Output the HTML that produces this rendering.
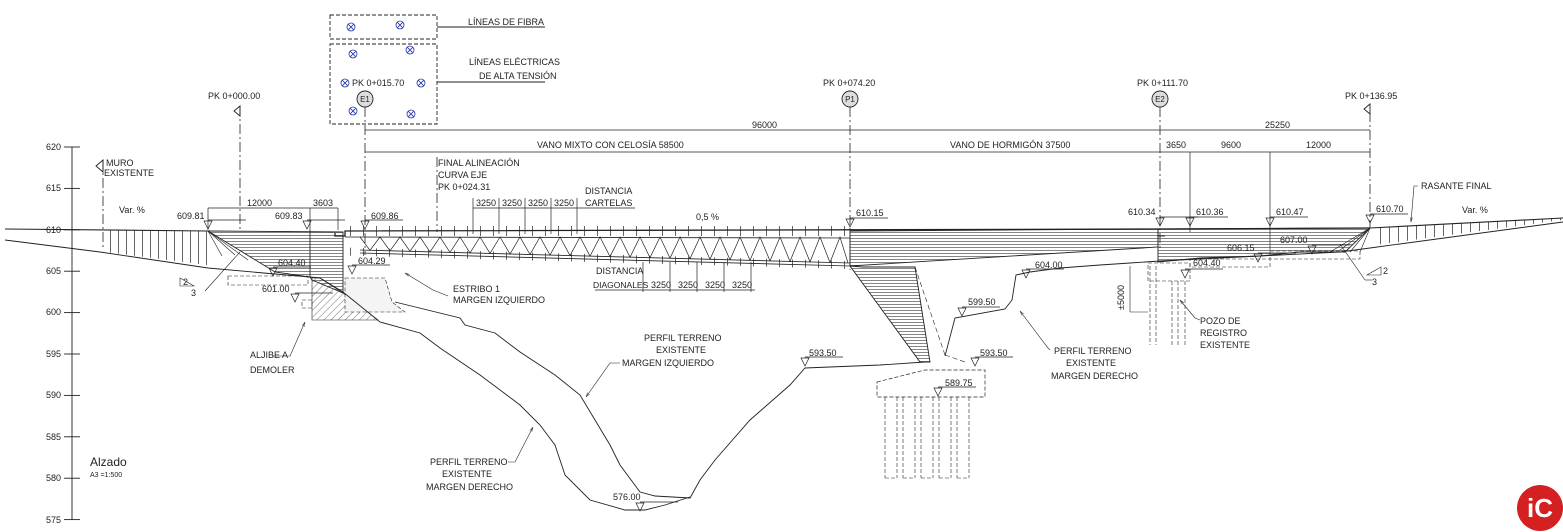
<!DOCTYPE html>
<html><head><meta charset="utf-8"><style>
html,body{margin:0;padding:0;background:#fff;}
svg{display:block;font-family:"Liberation Sans",sans-serif;}
text{font-size:9px;fill:#222;}
</style></head><body>
<svg width="1563" height="532" viewBox="0 0 1563 532" xmlns="http://www.w3.org/2000/svg" xmlns:xlink="http://www.w3.org/1999/xlink">
<defs>
<pattern id="hz" width="6" height="3" patternUnits="userSpaceOnUse"><line x1="0" y1="1.5" x2="6" y2="1.5" stroke="#333" stroke-width="0.6"/></pattern>
<pattern id="dg" width="5" height="5" patternUnits="userSpaceOnUse" patternTransform="rotate(45)"><line x1="0" y1="0" x2="0" y2="5" stroke="#333" stroke-width="0.7"/></pattern>
<pattern id="v8" x="110" width="8" height="10" patternUnits="userSpaceOnUse"><line x1="0.5" y1="0" x2="0.5" y2="10" stroke="#222" stroke-width="0.7"/></pattern>
<pattern id="v9" x="1380" width="9" height="10" patternUnits="userSpaceOnUse"><line x1="0.5" y1="0" x2="0.5" y2="10" stroke="#222" stroke-width="0.7"/></pattern>
<pattern id="v13" x="350" width="13" height="10" patternUnits="userSpaceOnUse"><line x1="0.5" y1="0" x2="0.5" y2="10" stroke="#222" stroke-width="0.7"/></pattern>
<marker id="ar" markerWidth="8" markerHeight="6" refX="8" refY="3" orient="auto"><path d="M0,1 L8,3 L0,5" fill="none" stroke="#333" stroke-width="0.8"/></marker>
<g id="tri" fill="none" stroke="#222" stroke-width="0.7"><polygon points="-4,0 4,0 0,8"/><line x1="0" y1="-1" x2="38" y2="-1"/></g>
<g id="cx" fill="none" stroke="#2233aa" stroke-width="0.8"><circle cx="0" cy="0" r="4"/><line x1="-2.8" y1="-2.8" x2="2.8" y2="2.8"/><line x1="-2.8" y1="2.8" x2="2.8" y2="-2.8"/></g>
</defs>
<g stroke="#222" fill="none" stroke-width="0.9">
<line x1="72" y1="147" x2="72" y2="520"/>
<g>
<line x1="64" y1="147" x2="80" y2="147"/><line x1="64" y1="188.4" x2="80" y2="188.4"/><line x1="64" y1="229.8" x2="80" y2="229.8"/><line x1="64" y1="271.2" x2="80" y2="271.2"/><line x1="64" y1="312.6" x2="80" y2="312.6"/><line x1="64" y1="354" x2="80" y2="354"/><line x1="64" y1="395.4" x2="80" y2="395.4"/><line x1="64" y1="436.8" x2="80" y2="436.8"/><line x1="64" y1="478.2" x2="80" y2="478.2"/><line x1="64" y1="519.6" x2="80" y2="519.6"/>
</g>
<rect x="330" y="15" width="107" height="24" stroke-dasharray="4,2"/>
<rect x="330" y="44" width="107" height="80" stroke-dasharray="4,2"/>
<line x1="437" y1="27" x2="545" y2="27"/>
<line x1="437" y1="82" x2="545" y2="82"/>
<g stroke-dasharray="10,3,2,3" stroke-width="0.8">
<line x1="365" y1="107" x2="365" y2="255"/>
<line x1="850" y1="107" x2="850" y2="270"/>
<line x1="1160" y1="107" x2="1160" y2="250"/>
<line x1="1370" y1="112" x2="1370" y2="228"/>
<line x1="240" y1="106" x2="240" y2="231"/>
<line x1="437" y1="157" x2="437" y2="232"/>
<line x1="103" y1="160" x2="103" y2="250"/>
</g>
<line x1="365" y1="130" x2="1370" y2="130" stroke-width="0.7"/>
<line x1="365" y1="152" x2="1370" y2="152" stroke-width="0.7"/>
<line x1="1190" y1="152" x2="1190" y2="232" stroke-width="0.7"/>
<line x1="1270" y1="152" x2="1270" y2="250" stroke-width="0.7"/>
<line x1="208" y1="208" x2="338" y2="208" stroke-width="0.7"/>
<line x1="208" y1="208" x2="208" y2="230" stroke-width="0.7"/>
<line x1="310" y1="208" x2="310" y2="230" stroke-width="0.7"/>
<line x1="338" y1="208" x2="338" y2="230" stroke-width="0.7"/>
<line x1="473" y1="208" x2="635" y2="208" stroke-width="0.7"/>
<line x1="595" y1="290" x2="755" y2="290" stroke-width="0.7"/>
<g stroke-width="0.7">
<line x1="473" y1="198" x2="473" y2="234"/><line x1="499" y1="198" x2="499" y2="234"/><line x1="525" y1="198" x2="525" y2="234"/><line x1="551" y1="198" x2="551" y2="234"/><line x1="577" y1="198" x2="577" y2="234"/>
<line x1="643" y1="262" x2="643" y2="292"/><line x1="670" y1="262" x2="670" y2="292"/><line x1="697" y1="262" x2="697" y2="292"/><line x1="724" y1="262" x2="724" y2="292"/><line x1="751" y1="262" x2="751" y2="292"/>
</g>
<polygon points="208,231 343,232 343,293 312,280 310,277 275,272" fill="url(#hz)" stroke="#222"/>
<line x1="310" y1="230" x2="310" y2="277"/>
<polygon points="312,278 320,278 343,293 378,320 312,320" fill="url(#dg)" stroke="#222" stroke-width="0.6"/>
<rect x="228" y="276" width="80" height="9" stroke-dasharray="4,2" stroke-width="0.6"/>
<rect x="302" y="300" width="10" height="8" stroke-dasharray="4,2" stroke-width="0.6"/>
<polygon points="345,278 385,278 392,302 405,312 345,312" stroke-dasharray="4,2" stroke-width="0.6" fill="#f4f4f4"/>
<line x1="208" y1="231" x2="248" y2="260" stroke-width="0.6"/>
<line x1="208" y1="231" x2="235" y2="255" stroke-width="0.6"/>
<line x1="208" y1="231" x2="222" y2="256" stroke-width="0.6"/>
<line x1="240" y1="252" x2="205" y2="291" stroke-width="0.6"/>
<!-- vertical ticks between road & ground -->
<polygon points="106,230 207,231 207,265 106,252" fill="url(#v8)" stroke="none"/>
<polygon points="1375,228 1563,218 1563,220 1375,245" fill="url(#v9)" stroke="none"/>
<line x1="5" y1="229" x2="208" y2="231" stroke-width="1.1"/>
<polyline points="5,240 100,252 208,268 275,274 310,277 320,278 343,292 380,322 420,333 440,348 480,375 520,405 540,425 555,445 565,475 590,500 625,510 645,510 665,505 690,497"/>
<polyline points="395,302 460,318 465,325 495,333 520,352 555,375 580,395 595,420 610,445 620,465 640,492 655,496 690,498 700,480 715,460 750,420 790,385 805,368 880,365 925,362"/>
<!-- deck -->
<rect x="350" y="226" width="500" height="10" fill="url(#v13)" stroke="none"/>
<polyline points="335,233 335,236 345,236 345,231 1160,229 1370,228" stroke-width="1.3"/>
<line x1="345" y1="237" x2="850" y2="238" stroke-width="0.8"/>
<line x1="360" y1="250" x2="850" y2="263" stroke-width="0.8"/>
<line x1="360" y1="253" x2="850" y2="266" stroke-width="0.8"/>
<polyline stroke-width="0.7" points="360,237 370,250.3 380,237 390,250.8 400,237 410,251.3 420,237 430,251.9 440,237 450,252.4 460,237 470,252.9 480,237 490,253.4 500,237 510,254 520,237 530,254.5 540,237 550,255 560,237 570,255.6 580,237 590,256.1 600,237 610,256.6 620,237 630,257.2 640,237 650,257.7 660,237 670,258.2 680,237 690,258.8 700,237 710,259.3 720,237 730,259.8 740,237 750,260.3 760,237 770,260.9 780,237 790,261.4 800,237 810,261.9 820,237 830,262.5 840,237 848,263"/>
<g transform="translate(0,-9.6) skewY(1.52)"><rect x="350" y="248" width="500" height="8" fill="url(#v13)" stroke="none"/></g>
<polygon points="850,231 1158,229 1158,247 850,266" fill="url(#hz)" stroke="#222"/>
<polygon points="850,266 863,267 915,267 930,362 920,362" fill="url(#hz)" stroke="#222"/>
<line x1="915" y1="267" x2="945" y2="355" stroke-dasharray="5,3" stroke-width="0.6"/>
<line x1="945" y1="355" x2="965" y2="362" stroke-dasharray="5,3" stroke-width="0.6"/>
<polygon points="877,382 925,370 985,370 985,397 877,397" stroke-dasharray="4,2" stroke-width="0.7"/>
<g stroke-dasharray="4,2" stroke-width="0.6">
<line x1="885" y1="397" x2="885" y2="478"/><line x1="897" y1="397" x2="897" y2="478"/><line x1="885" y1="478" x2="897" y2="478"/>
<line x1="903" y1="397" x2="903" y2="478"/><line x1="915" y1="397" x2="915" y2="478"/><line x1="903" y1="478" x2="915" y2="478"/>
<line x1="921" y1="397" x2="921" y2="478"/><line x1="933" y1="397" x2="933" y2="478"/><line x1="921" y1="478" x2="933" y2="478"/>
<line x1="939" y1="397" x2="939" y2="478"/><line x1="951" y1="397" x2="951" y2="478"/><line x1="939" y1="478" x2="951" y2="478"/>
<line x1="957" y1="397" x2="957" y2="478"/><line x1="969" y1="397" x2="969" y2="478"/><line x1="957" y1="478" x2="969" y2="478"/>
</g>
<polyline points="945,356 955,318 1005,309 1012,300 1016,275 1030,272 1060,268 1100,265 1130,263 1160,261 1200,259 1260,256 1340,252 1370,248 1563,222"/>
<polygon points="1158,229 1370,228 1345,252 1300,252 1260,256 1200,258 1158,262" fill="url(#hz)" stroke="#222"/>
<line x1="1158" y1="236" x2="1165" y2="236"/>
<rect x="1190" y="259" width="80" height="8" stroke-dasharray="4,2" stroke-width="0.6"/>
<rect x="1270" y="251" width="90" height="8" stroke-dasharray="4,2" stroke-width="0.6"/>
<rect x="1148" y="263" width="42" height="18" stroke-dasharray="4,2" stroke-width="0.6"/>
<line x1="1150" y1="266" x2="1150" y2="345" stroke-dasharray="4,2" stroke-width="0.6"/>
<line x1="1156" y1="266" x2="1156" y2="345" stroke-dasharray="4,2" stroke-width="0.6"/>
<line x1="1172" y1="281" x2="1172" y2="345" stroke-dasharray="4,2" stroke-width="0.6"/>
<line x1="1178" y1="281" x2="1178" y2="345" stroke-dasharray="4,2" stroke-width="0.6"/>
<line x1="1185" y1="281" x2="1185" y2="345" stroke-dasharray="4,2" stroke-width="0.6"/>
<line x1="1130" y1="266" x2="1130" y2="312" stroke-width="0.6"/>
<line x1="1130" y1="312" x2="1148" y2="312" stroke-width="0.6"/>
<g stroke-width="0.6"><line x1="1370" y1="228" x2="1330" y2="252"/><line x1="1370" y1="228" x2="1340" y2="250"/><line x1="1370" y1="228" x2="1350" y2="252"/><line x1="1370" y1="228" x2="1360" y2="252"/><line x1="1340" y1="244" x2="1365" y2="280"/><line x1="1365" y1="280" x2="1372" y2="280"/></g>
<polygon points="1367,275 1381,275 1381,267" stroke-width="0.6"/>
<polygon points="180,278 194,286 180,286" stroke-width="0.6"/>
<line x1="1370" y1="228" x2="1563" y2="218" stroke-width="1.1"/>
<g stroke-width="0.6" marker-end="url(#ar)">
<polyline points="448,296 433,290 405,273"/>
<polyline points="620,363 610,363 586,397"/>
<polyline points="508,462 515,462 533,427"/>
<polyline points="1050,350 1048,348 1020,311"/>
<polyline points="1200,320 1195,318 1180,300"/>
<polyline points="272,356 290,356 305,322"/>
<polyline points="1418,186 1414,186 1411,222"/>
</g>
<circle cx="365" cy="99" r="8" fill="#ddd"/><circle cx="850" cy="99" r="8" fill="#ddd"/><circle cx="1160" cy="99" r="8" fill="#ddd"/>
<polygon points="240,106 234,111 240,116"/><polygon points="1370,104 1364,109 1370,114"/><polygon points="103,160 96,166 103,172"/>
</g>
<!-- level markers -->
<use xlink:href="#tri" x="208" y="221"/><use xlink:href="#tri" x="307" y="221"/><use xlink:href="#tri" x="365" y="221"/><use xlink:href="#tri" x="850" y="219"/><use xlink:href="#tri" x="1160" y="218"/><use xlink:href="#tri" x="1190" y="218"/><use xlink:href="#tri" x="1270" y="218"/><use xlink:href="#tri" x="1370" y="215"/><use xlink:href="#tri" x="273" y="268"/><use xlink:href="#tri" x="352" y="266"/><use xlink:href="#tri" x="1258" y="254"/><use xlink:href="#tri" x="1185" y="270"/><use xlink:href="#tri" x="1312" y="246"/><use xlink:href="#tri" x="1026" y="270"/><use xlink:href="#tri" x="962" y="308"/><use xlink:href="#tri" x="805" y="358"/><use xlink:href="#tri" x="975" y="358"/><use xlink:href="#tri" x="938" y="388"/><use xlink:href="#tri" x="640" y="503"/><use xlink:href="#tri" x="295" y="294"/>
<use xlink:href="#cx" x="351" y="27"/><use xlink:href="#cx" x="400" y="25"/><use xlink:href="#cx" x="353" y="54"/><use xlink:href="#cx" x="410" y="50"/><use xlink:href="#cx" x="345" y="83"/><use xlink:href="#cx" x="421" y="83"/><use xlink:href="#cx" x="353" y="111"/><use xlink:href="#cx" x="411" y="114"/>
<g text-anchor="end"><text x="61" y="150">620</text><text x="61" y="191">615</text><text x="61" y="233">610</text><text x="61" y="274">605</text><text x="61" y="315">600</text><text x="61" y="357">595</text><text x="61" y="398">590</text><text x="61" y="440">585</text><text x="61" y="481">580</text><text x="61" y="523">575</text></g>
<text x="468" y="25">LÍNEAS DE FIBRA</text>
<text x="469" y="65">LÍNEAS ELÉCTRICAS</text><text x="479" y="79">DE ALTA TENSIÓN</text>
<text x="352" y="86">PK 0+015.70</text><text x="823" y="86">PK 0+074.20</text><text x="1137" y="86">PK 0+111.70</text><text x="1345" y="99">PK 0+136.95</text><text x="208" y="99">PK 0+000.00</text>
<g text-anchor="middle"><text x="365" y="102" style="font-size:8px">E1</text><text x="850" y="102" style="font-size:8px">P1</text><text x="1160" y="102" style="font-size:8px">E2</text></g>
<text x="752" y="128">96000</text><text x="1265" y="128">25250</text>
<text x="537" y="148">VANO MIXTO CON CELOSÍA 58500</text><text x="950" y="148">VANO DE HORMIGÓN 37500</text>
<text x="1166" y="148">3650</text><text x="1221" y="148">9600</text><text x="1306" y="148">12000</text>
<text x="438" y="166">FINAL ALINEACIÓN</text><text x="438" y="178">CURVA EJE</text><text x="438" y="190">PK 0+024.31</text>
<text x="585" y="194">DISTANCIA</text><text x="585" y="206">CARTELAS</text>
<text x="476" y="206">3250</text><text x="502" y="206">3250</text><text x="528" y="206">3250</text><text x="554" y="206">3250</text>
<text x="696" y="220">0,5 %</text>
<text x="596" y="274">DISTANCIA</text><text x="593" y="288" style="font-size:8.5px">DIAGONALES</text>
<text x="651" y="288">3250</text><text x="678" y="288">3250</text><text x="705" y="288">3250</text><text x="732" y="288">3250</text>
<text x="106" y="166">MURO</text><text x="104" y="176">EXISTENTE</text>
<text x="119" y="213">Var. %</text><text x="1462" y="213">Var. %</text>
<text x="247" y="206">12000</text><text x="313" y="206">3603</text>
<text x="177" y="219">609.81</text><text x="275" y="219">609.83</text><text x="371" y="219">609.86</text><text x="856" y="216">610.15</text><text x="1128" y="215">610.34</text><text x="1196" y="215">610.36</text><text x="1276" y="215">610.47</text><text x="1376" y="212">610.70</text>
<text x="278" y="266">604.40</text><text x="358" y="264">604.29</text><text x="262" y="292">601.00</text>
<text x="1227" y="251">606.15</text><text x="1280" y="243">607.00</text><text x="1193" y="266">604.40</text><text x="1035" y="268">604.00</text><text x="968" y="305">599.50</text>
<text x="809" y="356">593.50</text><text x="980" y="356">593.50</text><text x="945" y="386">589.75</text><text x="613" y="500">576.00</text>
<text x="453" y="292">ESTRIBO 1</text><text x="453" y="303">MARGEN IZQUIERDO</text>
<text x="644" y="341">PERFIL TERRENO</text><text x="656" y="353">EXISTENTE</text><text x="622" y="366">MARGEN IZQUIERDO</text>
<text x="430" y="465">PERFIL TERRENO</text><text x="442" y="477">EXISTENTE</text><text x="426" y="490">MARGEN DERECHO</text>
<text x="1054" y="354">PERFIL TERRENO</text><text x="1066" y="366">EXISTENTE</text><text x="1051" y="379">MARGEN DERECHO</text>
<text x="1200" y="324">POZO DE</text><text x="1200" y="336">REGISTRO</text><text x="1200" y="348">EXISTENTE</text>
<text x="1421" y="189">RASANTE FINAL</text>
<text x="250" y="358">ALJIBE A</text><text x="250" y="373">DEMOLER</text>
<text x="1124" y="310" transform="rotate(-90 1124 310)">±5000</text>
<text x="183" y="285">2</text><text x="191" y="296">3</text><text x="1383" y="274">2</text><text x="1372" y="285">3</text>
<text x="90" y="466" style="font-size:12px">Alzado</text><text x="90" y="477" style="font-size:7px">A3 =1:500</text>
<circle cx="1540" cy="508" r="23" fill="#d42020"/>
<text x="1540" y="517" text-anchor="middle" style="font-size:26px;font-weight:bold;fill:#fff">iC</text>
</svg>
</body></html>
